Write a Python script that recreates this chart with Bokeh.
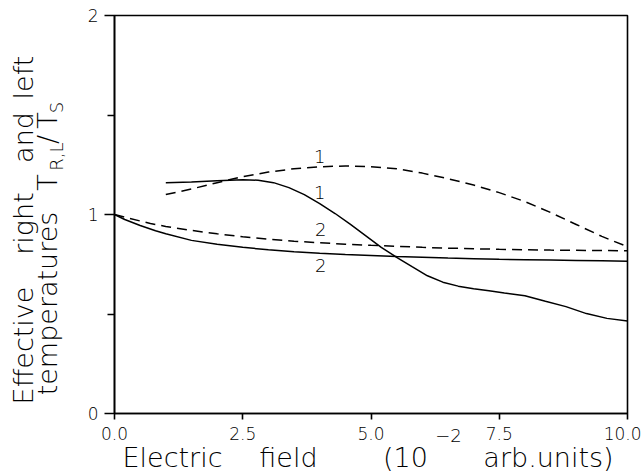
from bokeh.plotting import figure
from bokeh.models import Label, FixedTicker, Range1d, LinearAxis
from bokeh.embed import file_html
from bokeh.resources import INLINE

# ---- data ----
x1_solid = [1.0, 1.5, 2.0, 2.5, 2.8, 3.1, 3.4, 3.7, 4.0, 4.3, 4.6, 4.9, 5.2, 5.5, 5.8,
            6.1, 6.4, 6.7, 7.0, 7.3, 7.6, 8.0, 8.4, 8.8, 9.2, 9.6, 10.0]
y1_solid = [1.160, 1.163, 1.170, 1.175, 1.172, 1.160, 1.135, 1.100, 1.055, 1.005, 0.950,
            0.893, 0.835, 0.785, 0.738, 0.692, 0.660, 0.640, 0.627, 0.617, 0.606, 0.592,
            0.564, 0.537, 0.502, 0.478, 0.465]

x1_dash = [1.0, 1.5, 2.0, 2.5, 3.0, 3.5, 4.0, 4.5, 5.0, 5.5, 6.0, 6.5, 7.0, 7.5, 8.0,
           8.5, 9.0, 9.5, 10.0]
y1_dash = [1.100, 1.128, 1.160, 1.190, 1.213, 1.230, 1.240, 1.244, 1.240, 1.230, 1.208,
           1.180, 1.148, 1.110, 1.065, 1.010, 0.950, 0.890, 0.838]

x2_dash = [0.0, 0.3, 0.7, 1.0, 1.5, 2.0, 2.5, 3.0, 3.5, 4.0, 4.5, 5.0, 5.5, 6.0, 6.5,
           7.0, 7.5, 8.0, 8.5, 9.0, 9.5, 10.0]
y2_dash = [1.000, 0.980, 0.955, 0.940, 0.920, 0.903, 0.888, 0.876, 0.866, 0.858, 0.851,
           0.845, 0.840, 0.835, 0.831, 0.828, 0.825, 0.823, 0.821, 0.820, 0.819, 0.818]

x2_solid = [0.0, 0.2, 0.5, 0.8, 1.0, 1.5, 2.0, 2.5, 3.0, 3.5, 4.0, 4.5, 5.0, 5.5, 6.0,
            6.5, 7.0, 7.5, 8.0, 8.5, 9.0, 9.5, 10.0]
y2_solid = [1.000, 0.975, 0.945, 0.918, 0.903, 0.870, 0.850, 0.835, 0.823, 0.813, 0.805,
            0.799, 0.794, 0.789, 0.785, 0.781, 0.778, 0.775, 0.773, 0.771, 0.769, 0.767,
            0.765]

curve_labels = ["1", "1", "2", "2"]
curve_label_x = [4.0, 4.0, 4.02, 4.02]
curve_label_y = [1.29, 1.113, 0.927, 0.746]

x_ticks = [0, 2.5, 5, 7.5, 10]
x_tick_labels = ["0.0", "2.5", "5.0", "7.5", "10.0"]
y_ticks = [0, 1, 2]
y_tick_labels = ["0", "1", "2"]
y_minor = [0.5, 1.5]

# title pieces: (text, centre in canvas pixels along the axis)
x_title_words = [("Electric", 172), ("field", 288), ("(10", 405), ("arb.units)", 548)]
x_title_sup = [("\u22122", 448)]
y_title_line1 = [("Effective", 345), ("right", 223), ("and", 137), ("left", 77)]
y_title_line2 = [("temperatures", 303), ("T", 182), ("/", 139), ("T", 120)]
y_title_subs = [("R,L", 156), ("S", 107)]

# ---- layout ----
W, H = 641, 475
BL, BR, BT, BB = 114, 14, 15, 62
FW = W - BL - BR
FH = H - BT - BB
FONT = "DejaVu Sans Light, DejaVu Sans"

p = figure(width=W, height=H, x_range=Range1d(0, 10), y_range=Range1d(0, 2),
           output_backend="svg", toolbar_location=None,
           min_border_left=BL, min_border_right=BR, min_border_top=BT,
           min_border_bottom=BB)
p.xgrid.visible = False
p.ygrid.visible = False
p.outline_line_color = "black"
p.outline_line_width = 1.6
p.background_fill_color = "white"
p.border_fill_color = "white"

xa = p.xaxis[0]
xa.ticker = FixedTicker(ticks=x_ticks, minor_ticks=[])
xa.major_label_overrides = {t: l for t, l in zip(x_ticks, x_tick_labels)}
xa.major_tick_in = 0
xa.major_tick_out = 6
xa.minor_tick_in = 0
xa.minor_tick_out = 0
xa.major_label_standoff = 7
ya = p.yaxis[0]
ya.ticker = FixedTicker(ticks=y_ticks, minor_ticks=y_minor)
ya.major_label_overrides = {t: l for t, l in zip(y_ticks, y_tick_labels)}
ya.major_tick_in = 0
ya.major_tick_out = 10
ya.minor_tick_in = 0
ya.minor_tick_out = 7
ya.major_label_standoff = 6
for ax in (xa, ya):
    ax.axis_line_width = 1.6
    ax.major_tick_line_width = 1.6
    ax.minor_tick_line_width = 1.4
    ax.axis_line_color = "black"
    ax.major_tick_line_color = "black"
    ax.minor_tick_line_color = "black"
    ax.major_label_text_font = FONT
    ax.major_label_text_font_size = "17px"
    ax.major_label_text_color = "black"

# ---- curves ----
p.line(x1_solid, y1_solid, line_color="black", line_width=1.5)
p.line(x1_dash, y1_dash, line_color="black", line_width=1.5, line_dash="10 6")
p.line(x2_dash, y2_dash, line_color="black", line_width=1.5, line_dash="10 6")
p.line(x2_solid, y2_solid, line_color="black", line_width=1.5)

for t, cx, cy in zip(curve_labels, curve_label_x, curve_label_y):
    p.add_layout(Label(x=cx, y=cy, text=t, text_font=FONT, text_font_size="18px",
                       text_align="center", text_baseline="middle", text_color="black"))


# ---- titles: tick-label-only axes that place each word ----
def X(px):
    return round((px - BL) / FW * 10.0, 4)


def Y(py):
    return round((BT + FH - py) / FH * 2.0, 4)


def text_axis(pieces, side, conv, size, standoff, orientation="horizontal"):
    ticks = [conv(c) for _, c in pieces]
    ax = LinearAxis(ticker=FixedTicker(ticks=ticks, minor_ticks=[]))
    ax.major_label_overrides = {t: s for t, (s, _) in zip(ticks, pieces)}
    ax.axis_line_color = None
    ax.major_tick_line_color = None
    ax.minor_tick_line_color = None
    ax.major_tick_in = 0
    ax.major_tick_out = 0
    ax.minor_tick_in = 0
    ax.minor_tick_out = 0
    ax.major_label_standoff = standoff
    ax.major_label_text_font = FONT
    ax.major_label_text_font_size = f"{size}px"
    ax.major_label_text_color = "black"
    ax.major_label_orientation = orientation
    p.add_layout(ax, side)
    return ax


text_axis(x_title_sup, "below", X, 18, -14)
text_axis(x_title_words, "below", X, 27, -3)
text_axis(y_title_subs, "left", Y, 18, 17, "vertical")
text_axis(y_title_line2, "left", Y, 27, -20, "vertical")
text_axis(y_title_line1, "left", Y, 27, -10, "vertical")

open("out.html", "w").write(file_html(p, INLINE))
